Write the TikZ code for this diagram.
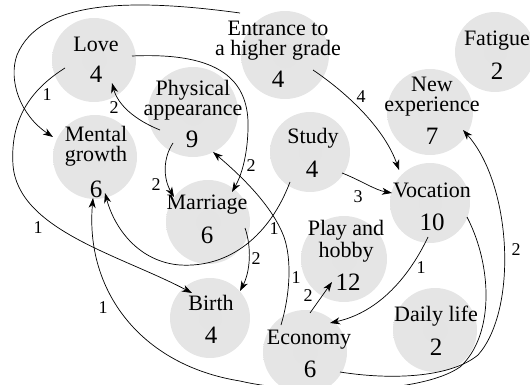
\documentclass[tikz,border=0pt]{standalone}
\usepackage{fontspec}
\setmainfont{Liberation Serif}
\usetikzlibrary{arrows.meta}
\pgfdeclareradialshading{blobshade}{\pgfpoint{0bp}{0bp}}{color(0bp)=(gray!21);color(34bp)=(gray!20);color(50bp)=(gray!7)}
\newcommand\wfnt{\fontsize{22}{20}\selectfont}
\newcommand\nfnt{\fontsize{25}{27}\selectfont}
\newcommand\lfnt{\fontsize{18}{20}\selectfont}
\begin{document}
\begin{tikzpicture}[x=1pt,y=-1pt,
  blob/.style={circle, draw=none, shade, shading=blobshade, minimum size=#1, inner sep=0pt},
  wd/.style={font=\wfnt, anchor=base, inner sep=0pt, align=center},
  num/.style={font=\nfnt, anchor=base, inner sep=0pt},
  lab/.style={font=\lfnt, inner sep=0pt},
  link/.style={line width=0.7pt, -{Stealth[length=10pt,width=7pt,inset=3pt]}}]
\useasboundingbox (0,0) rectangle (530,385);
% blobs
\node[blob=84pt] (love) at (94,60) {};
\node[blob=88pt] (entr) at (285,55) {};
\node[blob=80pt] (fat) at (495,52) {};
\node[blob=86pt] (newx) at (430,112) {};
\node[blob=90pt] (phys) at (193,112) {};
\node[blob=84pt] (ment) at (95,157) {};
\node[blob=80pt] (study) at (310,152) {};
\node[blob=80pt] (voc) at (430,203) {};
\node[blob=84pt] (marr) at (208,222) {};
\node[blob=86pt] (play) at (344,259) {};
\node[blob=80pt] (birth) at (210,318) {};
\node[blob=84pt] (daily) at (435,330) {};
\node[blob=84pt] (econ) at (305,352) {};
% texts (base anchor = baseline of the last line)
\node[wd] (love-w) at (96,52) {Love};
\node[num] (love-n) at (96,83) {4};
\node[wd] (entr-w) at (278,56) {Entrance to\\a higher grade};
\node[num] (entr-n) at (278,88) {4};
\node[wd] (fat-w) at (497,46) {Fatigue};
\node[num] (fat-n) at (497,80) {2};
\node[wd] (newx-w) at (432,112) {New\\experience};
\node[num] (newx-n) at (432,145) {7};
\node[wd] (phys-w) at (193,116) {Physical\\appearance};
\node[num] (phys-n) at (192,147) {9};
\node[wd] (ment-w) at (96,161) {Mental\\growth};
\node[num] (ment-n) at (96,197) {6};
\node[wd] (study-w) at (313,143) {Study};
\node[num] (study-n) at (312,177) {4};
\node[wd] (voc-w) at (432,197) {Vocation};
\node[num] (voc-n) at (432,230) {10};
\node[wd] (marr-w) at (207,209) {Marriage};
\node[num] (marr-n) at (207,243) {6};
\node[wd] (play-w) at (346,257) {Play and\\hobby};
\node[num] (play-n) at (348,290) {12};
\node[wd] (birth-w) at (211,310) {Birth};
\node[num] (birth-n) at (211,343) {4};
\node[wd] (daily-w) at (436,321) {Daily life};
\node[num] (daily-n) at (436,355) {2};
\node[wd] (econ-w) at (309,344) {Economy};
\node[num] (econ-n) at (310,377) {6};
% connectors
\draw[link] ([shift={(-45,-42)}]entr.center) .. controls (130,-2) and (40,0) .. (17,55) .. controls (8,80) and (20,115) .. ([shift={(-42,-20)}]ment.center);
\draw[link] ([shift={(-29,8)}]love.center) .. controls (30,90) and (10,120) .. (13,165) .. controls (18,230) and (120,255) .. ([shift={(-18,-25)}]birth.center);
\draw[link] ([shift={(38,-4)}]love.center) .. controls (220,52) and (250,80) .. (248,130) .. controls (247,160) and (240,178) .. ([shift={(24,-30)}]marr.center);
\draw[link] ([shift={(-33,18)}]phys.center) .. controls (135,120) and (118,105) .. ([shift={(18,23)}]love.center);
\draw[link] ([shift={(-20,31)}]phys.center) .. controls (163,158) and (163,178) .. ([shift={(-34,-25)}]marr.center);
\draw[link] ([shift={(-24,-27)}]econ.center) .. controls (290,295) and (292,260) .. (284,237) .. controls (272,205) and (240,175) .. ([shift={(20,40)}]phys.center);
\draw[link] ([shift={(-20,30)}]study.center) .. controls (270,235) and (230,268) .. (180,265) .. controls (140,262) and (115,230) .. ([shift={(10,36)}]ment.center);
\draw[link] ([shift={(28,15)}]entr.center) .. controls (350,95) and (385,130) .. ([shift={(-31,-33)}]voc.center);
\draw[link] ([shift={(32,21)}]study.center) .. controls (360,180) and (375,190) .. ([shift={(-38,-10)}]voc.center);
\draw[link] ([shift={(37,6)}]marr.center) .. controls (252,248) and (250,272) .. ([shift={(30,-27)}]birth.center);
\draw[link] ([shift={(-2,34)}]voc.center) .. controls (410,275) and (380,312) .. ([shift={(25,-29)}]econ.center);
\draw[link] ([shift={(5,-39)}]econ.center) -- ([shift={(-12,23)}]play.center);
\draw[link] ([shift={(37,14)}]voc.center) .. controls (492,265) and (495,335) .. (460,367) .. controls (420,395) and (300,395) .. (240,381) .. controls (140,365) and (85,290) .. ([shift={(-2,41)}]ment.center);
\draw[link] ([shift={(35,20)}]econ.center) .. controls (390,380) and (450,378) .. (478,355) .. controls (518,310) and (512,185) .. ([shift={(33,18)}]newx.center);
% labels
\node[lab] (l1) at (47,95) {1};
\node[lab] (l2) at (38,228) {1};
\node[lab] (l3) at (251,166) {2};
\node[lab] (l4) at (114,108) {2};
\node[lab] (l5) at (156,185) {2};
\node[lab] (l6) at (296,278) {1};
\node[lab] (l7) at (274,229) {1};
\node[lab] (l8) at (361,97) {4};
\node[lab] (l9) at (358,197) {3};
\node[lab] (l10) at (256,259) {2};
\node[lab] (l11) at (421,268) {1};
\node[lab] (l12) at (308,296) {2};
\node[lab] (l13) at (103,308) {1};
\node[lab] (l14) at (516,250) {2};
\end{tikzpicture}
\end{document}
